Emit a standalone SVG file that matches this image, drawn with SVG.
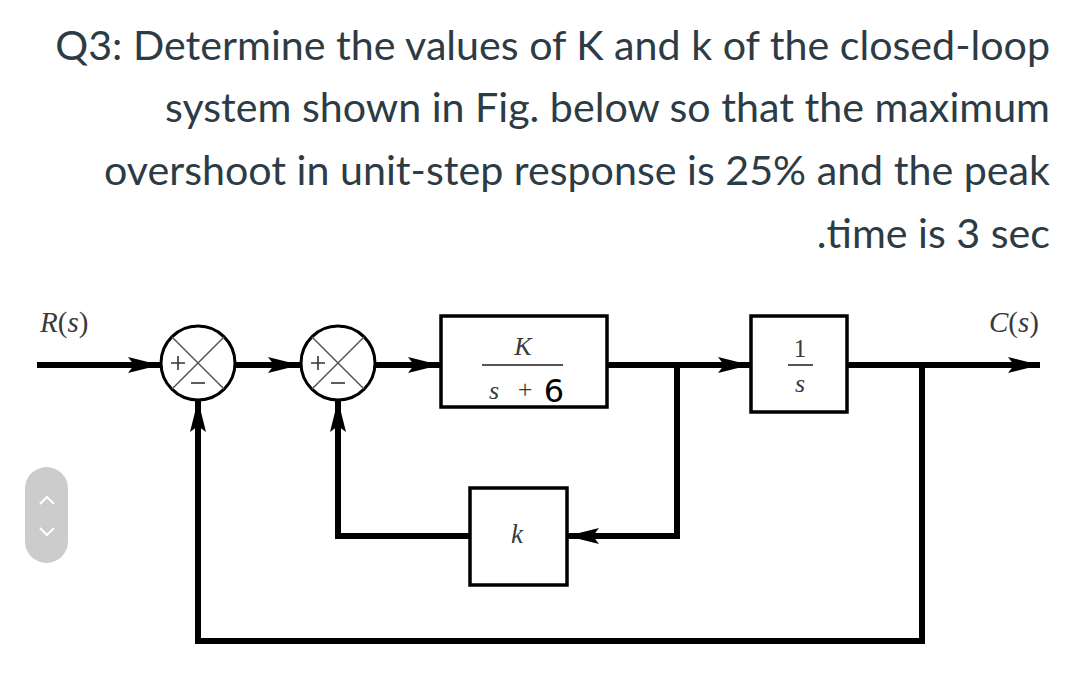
<svg xmlns="http://www.w3.org/2000/svg" width="1080" height="700" viewBox="0 0 1080 700">
<style>
.q{font-family:Lato,"Liberation Sans",sans-serif;font-size:41.2px;fill:#2d3b45;text-anchor:end}
.m{font-family:"Liberation Serif","Times New Roman",serif;fill:#3a3a3a}
.it{font-style:italic}
.wire{fill:none;stroke:#000;stroke-width:6}
.box{fill:#fff;stroke:#000;stroke-width:3.5}
.sum{fill:#fff;stroke:#000;stroke-width:3}
.x{stroke:#555;stroke-width:1.5}
</style>
<defs>
<marker id="ah" markerUnits="userSpaceOnUse" markerWidth="34" markerHeight="20" refX="32" refY="10" orient="auto">
<path d="M0,2 L32,10 L0,18 L6,10 Z" fill="#000"/>
</marker>
</defs>
<rect width="1080" height="700" fill="#fff"/>
<g id="question">
<text class="q" x="1050" y="60">Q3: Determine the values of K and k of the closed-loop</text>
<text class="q" x="1050" y="122">system shown in Fig. below so that the maximum</text>
<text class="q" x="1050" y="185">overshoot in unit-step response is 25% and the peak</text>
<text class="q" x="1050" y="248">.time is 3 sec</text>
</g>
<g id="scroll">
<rect x="25" y="467" width="43" height="96" rx="21.5" fill="#cccccc"/>
<path d="M40,504 L47,497 L54,504 M40,528 L47,535 L54,528" fill="none" stroke="#fff" stroke-width="2"/>
</g>
<g id="connectors">
<path class="wire" d="M37,365 H160" marker-end="url(#ah)"/>
<path class="wire" d="M236,365 H300" marker-end="url(#ah)"/>
<path class="wire" d="M376,365 H440" marker-end="url(#ah)"/>
<path class="wire" d="M607,365 H750" marker-end="url(#ah)"/>
<path class="wire" d="M847,365 H1040" marker-end="url(#ah)"/>
<path class="wire" d="M677,365 V536 H567" marker-end="url(#ah)"/>
<path class="wire" d="M469,536 H338 V400" marker-end="url(#ah)"/>
<path class="wire" d="M922,365 V641 H198 V400" marker-end="url(#ah)"/>
</g>
<g id="sum1">
<circle class="sum" cx="198" cy="363" r="37"/>
<path class="x" d="M172,337 L224,389 M224,337 L172,389"/>
<path d="M171,363 h14 M178,356 v14" stroke="#333" stroke-width="1.6"/>
<path d="M191,383 h14" stroke="#333" stroke-width="1.6"/>
</g>
<g id="sum2">
<circle class="sum" cx="338" cy="363" r="37"/>
<path class="x" d="M312,337 L364,389 M364,337 L312,389"/>
<path d="M311,363 h14 M318,356 v14" stroke="#333" stroke-width="1.6"/>
<path d="M331,383 h14" stroke="#333" stroke-width="1.6"/>
</g>
<g id="block1">
<rect class="box" x="441" y="316" width="166" height="91"/>
<text class="m it" x="523" y="355" font-size="26" text-anchor="middle">K</text>
<line x1="482" y1="365" x2="563" y2="365" stroke="#555" stroke-width="2"/>
<text class="m it" x="494" y="399" font-size="26" text-anchor="middle">s</text>
<text class="m" x="525" y="398" font-size="26" text-anchor="middle">+</text>
<text x="554" y="402" font-family="'DejaVu Sans',sans-serif" font-size="32" fill="#000" text-anchor="middle">6</text>
</g>
<g id="block2">
<rect class="box" x="751" y="316" width="96" height="96"/>
<text class="m" x="800" y="357" font-size="25" text-anchor="middle">1</text>
<line x1="788" y1="365" x2="813" y2="365" stroke="#555" stroke-width="2"/>
<text class="m it" x="800" y="392" font-size="26" text-anchor="middle">s</text>
</g>
<g id="block3">
<rect class="box" x="470" y="488" width="97" height="97"/>
<text class="m it" x="517" y="543" font-size="27" text-anchor="middle">k</text>
</g>
<g id="labels">
<text class="m" x="40" y="332" font-size="29"><tspan class="it">R</tspan>(<tspan class="it">s</tspan>)</text>
<text class="m" x="989" y="332" font-size="29"><tspan class="it">C</tspan>(<tspan class="it">s</tspan>)</text>
</g>
</svg>
